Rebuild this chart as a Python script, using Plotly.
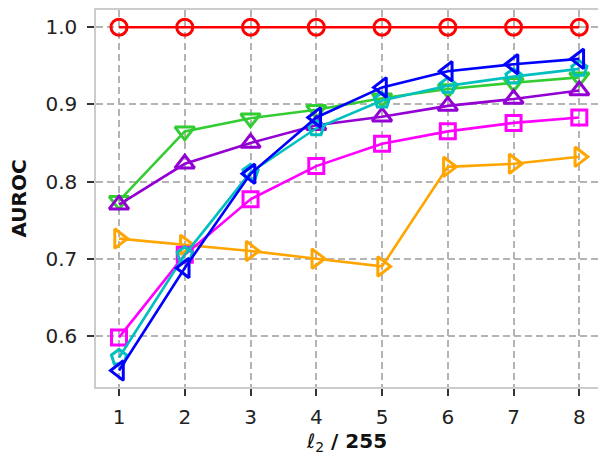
import plotly.graph_objects as go

# Perturbation budget (in units of 1/255)
eps = [1, 2, 3, 4, 5, 6, 7, 8]

# AUROC per method
auroc_red = [1.0, 1.0, 1.0, 1.0, 1.0, 1.0, 1.0, 1.0]
auroc_orange = [0.726, 0.718, 0.710, 0.700, 0.690, 0.819, 0.823, 0.832]
auroc_green = [0.775, 0.865, 0.882, 0.893, 0.908, 0.920, 0.928, 0.935]
auroc_purple = [0.770, 0.823, 0.850, 0.873, 0.884, 0.898, 0.907, 0.918]
auroc_magenta = [0.598, 0.705, 0.777, 0.820, 0.849, 0.865, 0.876, 0.883]
auroc_cyan = [0.572, 0.705, 0.812, 0.869, 0.905, 0.924, 0.936, 0.946]
auroc_blue = [0.555, 0.688, 0.810, 0.883, 0.922, 0.943, 0.952, 0.959]

series = [
    (auroc_red, "#ff0000", "circle-open", 16),
    (auroc_orange, "#ffa500", "triangle-right-open", 17),
    (auroc_green, "#33cc33", "triangle-down-open", 17),
    (auroc_purple, "#9400d3", "triangle-up-open", 17),
    (auroc_magenta, "#ff00ff", "square-open", 15),
    (auroc_cyan, "#00bfbf", "pentagon-open", 16),
    (auroc_blue, "#0000ff", "triangle-left-open", 17),
]

fig = go.Figure()
for vals, color, sym, size in series:
    fig.add_trace(go.Scatter(
        x=eps, y=vals, mode="lines+markers",
        line=dict(color=color, width=2.6),
        marker=dict(symbol=sym, size=size, color=color,
                    line=dict(color=color, width=3)),
        cliponaxis=False, showlegend=False,
    ))

font = "DejaVu Sans, sans-serif"
grid = dict(showgrid=True, gridcolor="#b4b4b4", gridwidth=1.8, griddash="7px,4px")

fig.update_layout(
    width=598, height=455,
    margin=dict(l=96, r=0, t=10, b=68),
    plot_bgcolor="white", paper_bgcolor="white",
    font=dict(family=font, size=20, color="#222222"),
    xaxis=dict(
        range=[0.65, 8.284], tickvals=eps, ticktext=[str(v) for v in eps],
        ticks="outside", ticklen=7, tickwidth=1.6, tickcolor="#333333",
        showline=True, linecolor="#cccccc", linewidth=1.5, mirror=True,
        zeroline=False, ticklabelstandoff=4,
        title=dict(text="<i>ℓ</i><sub>2</sub><b> / 255</b>",
                   font=dict(family=font, size=20, color="#111111"), standoff=8),
        **grid,
    ),
    yaxis=dict(
        range=[0.5337, 1.0223], tickvals=[0.6, 0.7, 0.8, 0.9, 1.0],
        ticktext=["0.6", "0.7", "0.8", "0.9", "1.0"],
        ticks="outside", ticklen=7, tickwidth=1.6, tickcolor="#333333",
        showline=True, linecolor="#cccccc", linewidth=1.5, mirror=False,
        zeroline=False, ticklabelstandoff=6,
        title=dict(text="<b>AUROC</b>",
                   font=dict(family=font, size=20, color="#111111"), standoff=13),
        **grid,
    ),
)

fig.write_html("out.html")
